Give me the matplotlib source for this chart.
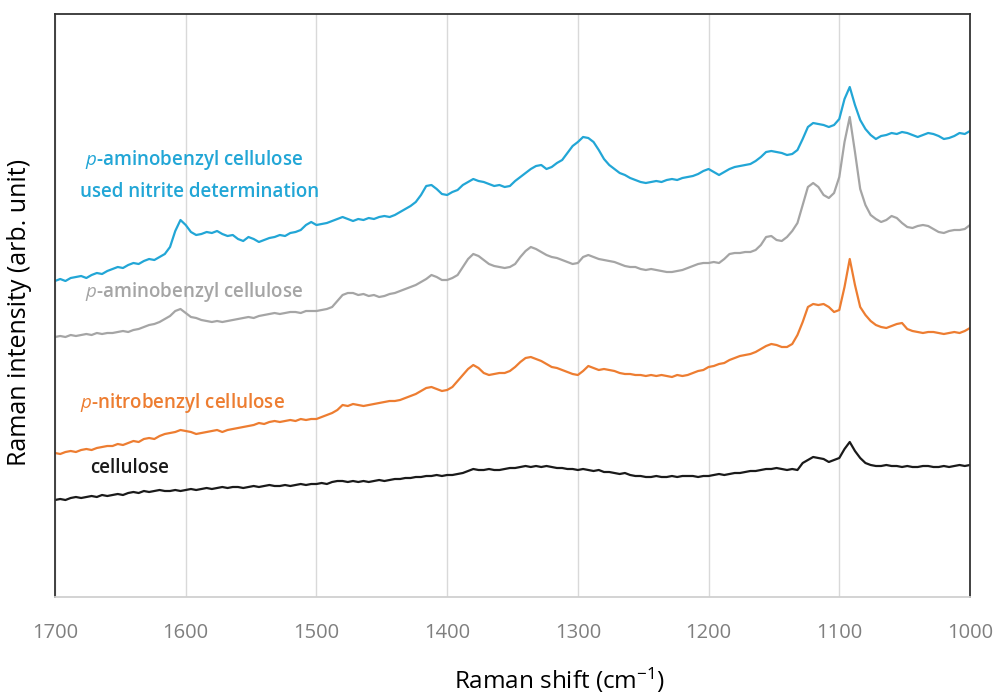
import numpy as np
import matplotlib
matplotlib.use('Agg')
import matplotlib.pyplot as plt

# Raman shift grid, cm-1 (4 cm-1 steps from 1700 down to 1000)
shift = np.arange(1700, 999, -4)

# offset spectra, arbitrary units (one row = 11 points)
cellulose = [
    97, 98, 97, 99, 100, 99, 100, 101, 100, 102, 101,
    102, 103, 102, 104, 105, 104, 106, 105, 106, 107, 106,
    106, 107, 106, 107, 108, 107, 108, 109, 108, 109, 110,
    109, 110, 110, 109, 110, 111, 110, 111, 112, 111, 111,
    112, 111, 112, 113, 112, 113, 113, 114, 113, 115, 116,
    116, 115, 116, 115, 116, 115, 116, 117, 116, 117, 118,
    118, 119, 119, 120, 120, 121, 121, 122, 121, 122, 122,
    123, 124, 126, 128, 127, 127, 128, 127, 127, 128, 129,
    129, 130, 131, 130, 131, 130, 131, 130, 129, 129, 128,
    128, 127, 128, 127, 126, 127, 125, 125, 124, 123, 124,
    122, 121, 121, 120, 120, 121, 120, 120, 121, 120, 121,
    121, 121, 120, 121, 121, 122, 123, 122, 123, 124, 124,
    125, 126, 126, 127, 128, 128, 129, 128, 127, 128, 127,
    134, 137, 140, 139, 138, 135, 137, 139, 148, 155, 146,
    139, 134, 132, 131, 131, 132, 131, 131, 130, 131, 130,
    130, 131, 131, 130, 130, 131, 130, 131, 132, 131, 132,
]

nitrobenzyl = [
    144, 143, 145, 146, 145, 147, 148, 147, 149, 150, 151,
    151, 153, 152, 154, 156, 155, 158, 159, 158, 161, 163,
    164, 165, 167, 166, 165, 163, 164, 165, 166, 167, 165,
    167, 168, 169, 170, 171, 172, 174, 173, 175, 176, 175,
    176, 177, 176, 178, 177, 178, 178, 180, 182, 184, 187,
    192, 191, 193, 192, 191, 192, 193, 194, 195, 196, 196,
    197, 199, 201, 203, 206, 209, 210, 208, 206, 207, 210,
    216, 222, 228, 232, 229, 224, 222, 223, 224, 224, 226,
    230, 235, 239, 240, 238, 236, 233, 230, 229, 227, 225,
    223, 222, 226, 231, 229, 227, 228, 227, 226, 224, 223,
    223, 222, 222, 221, 222, 221, 222, 221, 220, 222, 221,
    222, 224, 226, 227, 230, 231, 233, 234, 237, 239, 241,
    242, 243, 245, 248, 251, 253, 252, 250, 250, 253, 262,
    275, 290, 293, 292, 293, 290, 285, 287, 310, 338, 312,
    290, 282, 276, 272, 270, 269, 271, 273, 274, 268, 266,
    265, 264, 265, 265, 264, 263, 264, 265, 264, 266, 269,
]

aminobenzyl = [
    260, 261, 260, 262, 261, 262, 263, 262, 264, 263, 264,
    264, 265, 266, 265, 267, 268, 270, 272, 273, 275, 278,
    281, 286, 288, 284, 280, 279, 277, 276, 275, 276, 275,
    276, 277, 278, 279, 280, 279, 281, 282, 283, 284, 283,
    284, 285, 285, 284, 286, 286, 286, 287, 288, 290, 296,
    302, 304, 304, 302, 303, 301, 302, 300, 301, 303, 304,
    306, 308, 310, 312, 315, 318, 322, 320, 317, 317, 319,
    322, 330, 338, 343, 341, 337, 333, 331, 330, 329, 330,
    333, 340, 346, 350, 348, 345, 342, 340, 339, 337, 335,
    333, 334, 340, 342, 340, 338, 337, 336, 335, 333, 331,
    330, 330, 328, 327, 328, 327, 326, 325, 325, 326, 327,
    329, 331, 333, 334, 334, 335, 334, 338, 343, 344, 344,
    345, 345, 347, 352, 360, 361, 357, 356, 360, 366, 374,
    392, 410, 414, 410, 402, 399, 404, 420, 455, 480, 445,
    408, 392, 382, 378, 375, 377, 381, 379, 374, 370, 369,
    371, 372, 371, 368, 365, 364, 366, 367, 367, 368, 372,
]

aminobenzyl_used = [
    316, 318, 316, 319, 320, 321, 319, 322, 324, 323, 326,
    328, 330, 329, 332, 334, 333, 336, 338, 337, 340, 343,
    350, 366, 377, 372, 365, 362, 363, 365, 364, 366, 363,
    361, 362, 358, 356, 360, 358, 355, 357, 359, 360, 362,
    361, 364, 365, 367, 372, 375, 372, 373, 374, 376, 378,
    380, 378, 376, 378, 377, 379, 378, 380, 381, 380, 382,
    385, 388, 391, 395, 402, 411, 412, 408, 403, 402, 405,
    407, 412, 415, 418, 416, 415, 413, 411, 412, 410, 411,
    416, 420, 424, 428, 431, 432, 428, 430, 434, 437, 444,
    451, 455, 460, 459, 455, 447, 438, 432, 428, 424, 422,
    419, 417, 415, 414, 415, 416, 415, 417, 418, 417, 419,
    420, 421, 423, 426, 428, 425, 422, 425, 428, 430, 431,
    432, 433, 436, 440, 445, 446, 445, 444, 442, 443, 447,
    458, 470, 474, 473, 472, 470, 472, 478, 498, 510, 492,
    477, 468, 462, 458, 461, 462, 464, 463, 465, 464, 462,
    460, 462, 464, 463, 461, 458, 459, 461, 464, 463, 466,
]

plt.rcParams['font.family'] = ['Open Sans', 'DejaVu Sans']
plt.rcParams['mathtext.fontset'] = 'custom'
plt.rcParams['mathtext.rm'] = 'Open Sans'
plt.rcParams['mathtext.it'] = 'Open Sans:italic'

fig = plt.figure(figsize=(9.96, 6.95), dpi=100)
ax = fig.add_axes([55 / 996, 98 / 695, 915 / 996, 583 / 695])

blue = '#22a6d6'
gray = '#a5a5a5'
orange = '#ed7d31'
black = '#1a1a1a'

ax.plot(shift, cellulose, color=black, lw=1.6)
ax.plot(shift, nitrobenzyl, color=orange, lw=1.6)
ax.plot(shift, aminobenzyl, color=gray, lw=1.6)
ax.plot(shift, aminobenzyl_used, color=blue, lw=1.6)

ax.set_xlim(1700, 1000)
ax.set_ylim(0, 583)
ax.set_xticks(range(1700, 999, -100))
ax.set_yticks([])
ax.grid(axis='x', color='#d9d9d9', lw=1)
ax.set_axisbelow(True)
ax.tick_params(axis='x', length=0, pad=19, labelsize=14.5, labelcolor='#7f7f7f')

for side in ['left', 'top', 'right']:
    ax.spines[side].set_color('#333333')
    ax.spines[side].set_linewidth(1.3)
ax.spines['bottom'].set_color('#d0d0d0')
ax.spines['bottom'].set_linewidth(1.3)

ax.set_xlabel('Raman shift (cm$^{-1}$)', fontsize=17.5, va='center')
ax.xaxis.set_label_coords(504 / 915, -83 / 583)
ax.set_ylabel('Raman intensity (arb. unit)', fontsize=18, va='center')
ax.yaxis.set_label_coords(-35 / 915, 285 / 583)

# series labels
lab = dict(fontsize=13.5, fontweight='semibold', ha='left', va='center')
ax.text(1677, 437, r'$\it{p}$-aminobenzyl cellulose', color=blue, **lab)
ax.text(1681, 405, 'used nitrite determination', color=blue, **lab)
ax.text(1677, 305, r'$\it{p}$-aminobenzyl cellulose', color=gray, **lab)
ax.text(1681, 194, r'$\it{p}$-nitrobenzyl cellulose', color=orange, **lab)
ax.text(1673, 129, 'cellulose', color=black, **lab)

fig.savefig('out.png', dpi=100)
